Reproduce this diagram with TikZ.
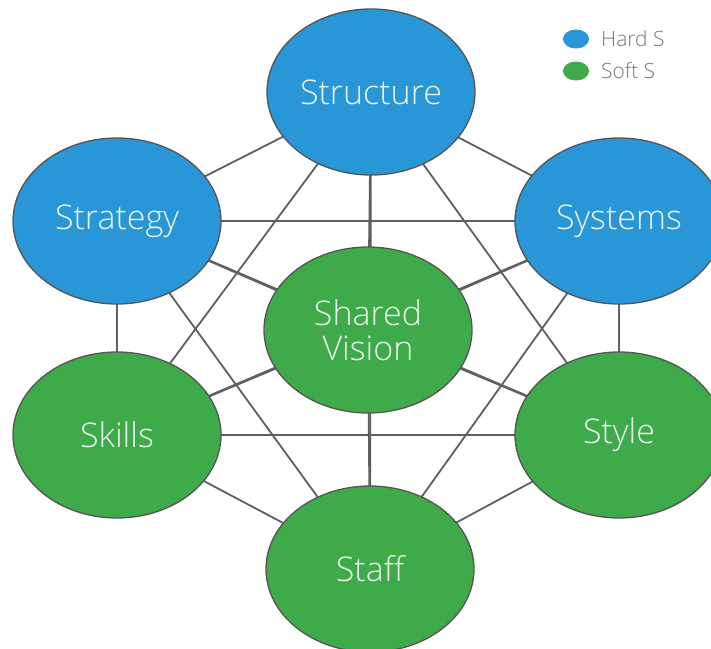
\documentclass[tikz,border=0pt]{standalone}
\usepackage{fontspec}
\setmainfont{Open Sans}
\newfontfamily\lightfont{Open Sans Light}
\usetikzlibrary{shapes.geometric,backgrounds}
\definecolor{hardblue}{RGB}{40,150,215}
\definecolor{softgreen}{RGB}{62,170,74}
\definecolor{edgegray}{RGB}{95,95,95}
\definecolor{rimgray}{RGB}{85,85,85}
\definecolor{labeltext}{RGB}{235,246,240}
\definecolor{legendtext}{RGB}{120,120,120}
\tikzset{
  sbox/.style={ellipse, draw=rimgray, line width=1.3pt, minimum width=208pt, minimum height=166pt, inner sep=0pt, text=labeltext, font=\lightfont\fontsize{34}{35}\selectfont, align=center},
  hard/.style={sbox, fill=hardblue},
  soft/.style={sbox, fill=softgreen},
  link/.style={draw=edgegray, line width=1.8pt},
  legdot/.style={ellipse, minimum width=26pt, minimum height=19pt, inner sep=0pt},
  legtxt/.style={anchor=west, text=legendtext, font=\lightfont\fontsize{21}{22}\selectfont, inner sep=0pt}
}
\begin{document}
\begin{tikzpicture}[x=1pt,y=-1pt]
\useasboundingbox (0,0) rectangle (711,648);
\clip (0,0) rectangle (711,648);
\node[hard] (structure) at (371,92) {Structure};
\node[hard] (strategy) at (117,221) {Strategy};
\node[hard] (systems) at (619,221) {Systems};
\node[soft] (vision) at (368,330) {Shared\\Vision};
\node[soft] (skills) at (117,435) {Skills};
\node[soft] (style) at (619,435) {Style};
\node[soft] (staff) at (370,569) {Staff};
\begin{scope}[on background layer]
\fill[white] (0,0) rectangle (711,648);
\foreach \a/\b in {structure/strategy,structure/systems,structure/vision,structure/skills,structure/style,structure/staff,
  strategy/systems,strategy/vision,strategy/skills,strategy/style,strategy/staff,
  systems/vision,systems/skills,systems/style,systems/staff,
  vision/skills,vision/style,vision/staff,
  skills/style,skills/staff,style/staff}
  \draw[link] (\a.center) -- (\b.center);
\end{scope}
\node[legdot, fill=hardblue] (hdot) at (576,39) {};
\node[legdot, fill=softgreen] (sdot) at (576,71) {};
\node[legtxt] (htxt) at (601,39) {Hard S};
\node[legtxt] (stxt) at (601,71) {Soft S};
\end{tikzpicture}
\end{document}
